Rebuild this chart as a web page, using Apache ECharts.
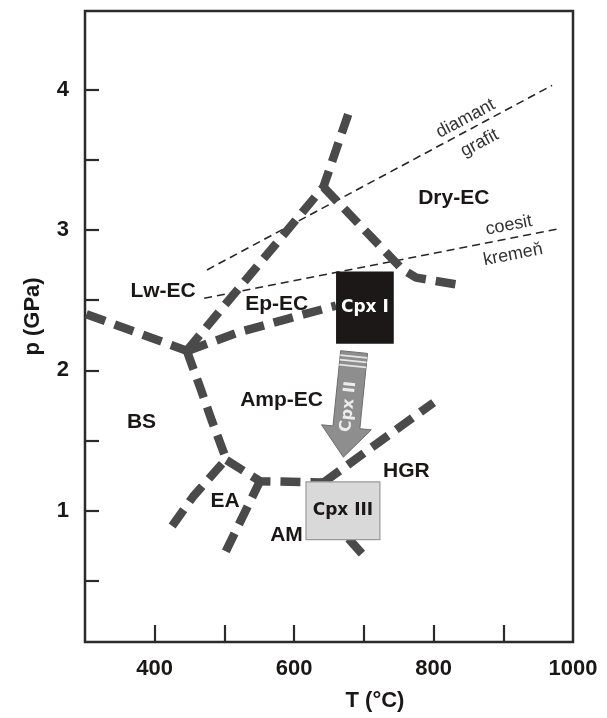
<!DOCTYPE html>
<html><head><meta charset="utf-8">
<script src="https://cdn.jsdelivr.net/npm/echarts@6/dist/echarts.min.js"></script>
<style>html,body{margin:0;padding:0;background:#fff}#chart{width:607px;height:718px}</style>
</head><body><div id="chart"></div>
<script>
// ---- axes ----
const xTickValues = [400, 500, 600, 700, 800, 900];
const xLabelValues = [400, 600, 800, 1000];
const yTickValues = [0.5, 1, 1.5, 2, 2.5, 3, 3.5, 4];
const yLabelValues = [1, 2, 3, 4];

// ---- thin reaction lines (T °C, p GPa) ----
const diamantGrafit = [[475, 2.715], [970, 4.03]];
const coesitKremen = [[471, 2.513], [983, 3.012]];

// ---- thick facies boundaries ----
const bsLwBoundary = [[302, 2.40], [446, 2.14]];
const lwEpBoundary = [[446, 2.14], [642, 3.306], [680, 3.86]];
const epAmpBoundary = [[448, 2.14], [520, 2.27], [600, 2.38], [660, 2.46]];
const dryBoundary = [[642, 3.306], [755, 2.72], [775, 2.66], [835, 2.61]];
const bsAmpBoundary = [[446, 2.14], [465, 1.88], [482, 1.64], [503, 1.36]];
const ampAmBoundary = [[503, 1.36], [551, 1.21], [642, 1.20]];
const hgrBoundary = [[642, 1.20], [800, 1.77]];
const eaBsBoundary = [[425, 0.89], [455, 1.10], [503, 1.37]];
const eaAmBoundary = [[502, 0.71], [551, 1.21]];
const amHgrBoundary = [[678, 0.80], [698, 0.69]];

// ---- clinopyroxene stages: [Tmin, Tmax, pmin, pmax] ----
const cpx1Box = [661, 742, 2.194, 2.70];
const cpx3Box = [617, 723, 0.793, 1.205];
// arrow Cpx II: [T tail, p tail, T tip, p tip]
const cpx2Arrow = [686, 2.13, 670.6, 1.381];

// ---- labels ----
const regionNames = ['Lw-EC', 'Ep-EC', 'Amp-EC', 'BS', 'EA', 'AM', 'HGR', 'Dry-EC'];
const regionT = [412, 575, 582, 381, 501, 589, 761, 829];
const regionP = [2.564, 2.474, 1.785, 1.63, 1.07, 0.823, 1.28, 3.223];
const reactionNames = ['diamant', 'grafit', 'coesit', 'kremeň'];
const reactionT = [846, 866, 908, 914];
const reactionP = [3.793, 3.619, 3.033, 2.824];

const FRAME = '#2d2a2a';
const DASH = '#4a4a4a';
const TXT = '#1a1717';

const thick = (name, data) => ({
  type: 'line', name, data, symbol: 'none', silent: true, z: 3,
  lineStyle: { color: DASH, width: 8.5, type: [20, 10], cap: 'butt' }
});
const thin = (name, data) => ({
  type: 'line', name, data, symbol: 'none', silent: true, z: 2,
  lineStyle: { color: '#262626', width: 1.6, type: [8, 5] }
});

const boxSeries = (name, box, fill, stroke, textFill) => ({
  type: 'custom', name, z: 5, silent: true,
  data: [box],
  renderItem: (params, api) => {
    const p0 = api.coord([api.value(0), api.value(3)]);
    const p1 = api.coord([api.value(1), api.value(2)]);
    return {
      type: 'rect',
      shape: { x: p0[0], y: p0[1], width: p1[0] - p0[0], height: p1[1] - p0[1] },
      style: { fill, stroke, lineWidth: 1.2 },
      textContent: { style: { text: name, fill: textFill, font: 'bold 17px "DejaVu Sans"' } },
      textConfig: { position: 'inside' }
    };
  }
});

const arrowSeries = {
  type: 'custom', name: 'Cpx II', z: 6, silent: true,
  data: [cpx2Arrow],
  renderItem: (params, api) => {
    const a = api.coord([api.value(0), api.value(1)]);
    const b = api.coord([api.value(2), api.value(3)]);
    const dx = b[0] - a[0], dy = b[1] - a[1];
    const L = Math.hypot(dx, dy);
    const ux = dx / L, uy = dy / L, nx = -uy, ny = ux;
    const sw = 13.5, hw = 25, hl = 30;
    const hb = [b[0] - ux * hl, b[1] - uy * hl];
    const pts = [
      [a[0] + nx * sw, a[1] + ny * sw],
      [hb[0] + nx * sw, hb[1] + ny * sw],
      [hb[0] + nx * hw, hb[1] + ny * hw],
      [b[0], b[1]],
      [hb[0] - nx * hw, hb[1] - ny * hw],
      [hb[0] - nx * sw, hb[1] - ny * sw],
      [a[0] - nx * sw, a[1] - ny * sw]
    ];
    const children = [{
      type: 'polygon', shape: { points: pts },
      style: { fill: '#8e8e8e', stroke: '#6e6e6e', lineWidth: 1 }
    }];
    [4.5, 9, 14].forEach(k => {
      const c = [a[0] + ux * k, a[1] + uy * k];
      children.push({
        type: 'line',
        shape: { x1: c[0] + nx * sw, y1: c[1] + ny * sw, x2: c[0] - nx * sw, y2: c[1] - ny * sw },
        style: { stroke: '#e6e6e6', lineWidth: 1.6 }
      });
    });
    const t = 0.52;
    const rot = Math.atan2(-(a[1] - b[1]), a[0] - b[0]);
    children.push({
      type: 'text',
      x: a[0] + dx * t, y: a[1] + dy * t, rotation: rot,
      style: { text: 'Cpx II', fill: '#ececec', font: 'bold 16px "DejaVu Sans"', align: 'center', verticalAlign: 'middle' }
    });
    return { type: 'group', children };
  }
};

const regionData = regionNames.map((n, i) => ({ name: n, value: [regionT[i], regionP[i]] }));
const reactionData = reactionNames.map((n, i) => ({
  name: n, value: [reactionT[i], reactionP[i]],
  label: { rotate: i < 2 ? 28 : 11 }
}));

const chart = echarts.init(document.getElementById('chart'), null, { renderer: 'canvas' });
chart.setOption({
  animation: false,
  backgroundColor: '#fff',
  grid: { left: 85, right: 34, top: 11, bottom: 76, show: true, borderColor: FRAME, borderWidth: 2.5, backgroundColor: 'transparent' },
  xAxis: {
    type: 'value', min: 300, max: 1000,
    name: 'T (°C)', nameLocation: 'middle', nameGap: 48,
    nameTextStyle: { fontFamily: 'Liberation Sans', fontWeight: 'bold', fontSize: 22, color: TXT, padding: [0, 0, 0, 92] },
    axisLine: { show: false },
    axisTick: { show: true, inside: true, length: 17, customValues: xTickValues, lineStyle: { color: FRAME, width: 2.2 } },
    axisLabel: { customValues: xLabelValues, margin: 16, formatter: v => String(v), fontFamily: 'Liberation Sans', fontWeight: 'bold', fontSize: 22, color: TXT },
    splitLine: { show: false }
  },
  yAxis: {
    type: 'value', min: 0.064, max: 4.56,
    name: 'p (GPa)', nameLocation: 'middle', nameGap: 41,
    nameTextStyle: { fontFamily: 'Liberation Sans', fontWeight: 'bold', fontSize: 22, color: TXT, padding: [0, 0, 0, 20] },
    axisLine: { show: false },
    axisTick: { show: true, inside: true, length: 14, customValues: yTickValues, lineStyle: { color: FRAME, width: 2.2 } },
    axisLabel: { customValues: yLabelValues, margin: 16, formatter: v => String(v), fontFamily: 'Liberation Sans', fontWeight: 'bold', fontSize: 22, color: TXT },
    splitLine: { show: false }
  },
  series: [
    thin('diamant–grafit', diamantGrafit),
    thin('coesit–kremeň', coesitKremen),
    thick('BS/Lw-EC', bsLwBoundary),
    thick('Lw-EC/Ep-EC', lwEpBoundary),
    thick('Ep-EC/Amp-EC', epAmpBoundary),
    thick('Dry-EC', dryBoundary),
    thick('BS/Amp-EC', bsAmpBoundary),
    thick('Amp-EC/AM', ampAmBoundary),
    thick('HGR', hgrBoundary),
    thick('EA/BS', eaBsBoundary),
    thick('EA/AM', eaAmBoundary),
    thick('AM/HGR', amHgrBoundary),
    boxSeries('Cpx I', cpx1Box, '#1c1818', '#1c1818', '#ffffff'),
    boxSeries('Cpx III', cpx3Box, '#d9d9d9', '#9a9a9a', TXT),
    arrowSeries,
    {
      type: 'scatter', name: 'regions', data: regionData, symbolSize: 0, z: 7, silent: true,
      itemStyle: { opacity: 1 },
      label: { show: true, position: 'inside', formatter: '{b}', fontFamily: 'Liberation Sans', fontWeight: 'bold', fontSize: 21, color: TXT, textBorderWidth: 0, opacity: 1 }
    },
    {
      type: 'scatter', name: 'reactions', data: reactionData, symbolSize: 0, z: 7, silent: true,
      itemStyle: { opacity: 1 },
      label: { show: true, position: 'inside', formatter: '{b}', fontFamily: 'Liberation Sans', fontSize: 18, color: '#333', textBorderWidth: 0, opacity: 1 }
    }
  ]
});
</script>
</body></html>
